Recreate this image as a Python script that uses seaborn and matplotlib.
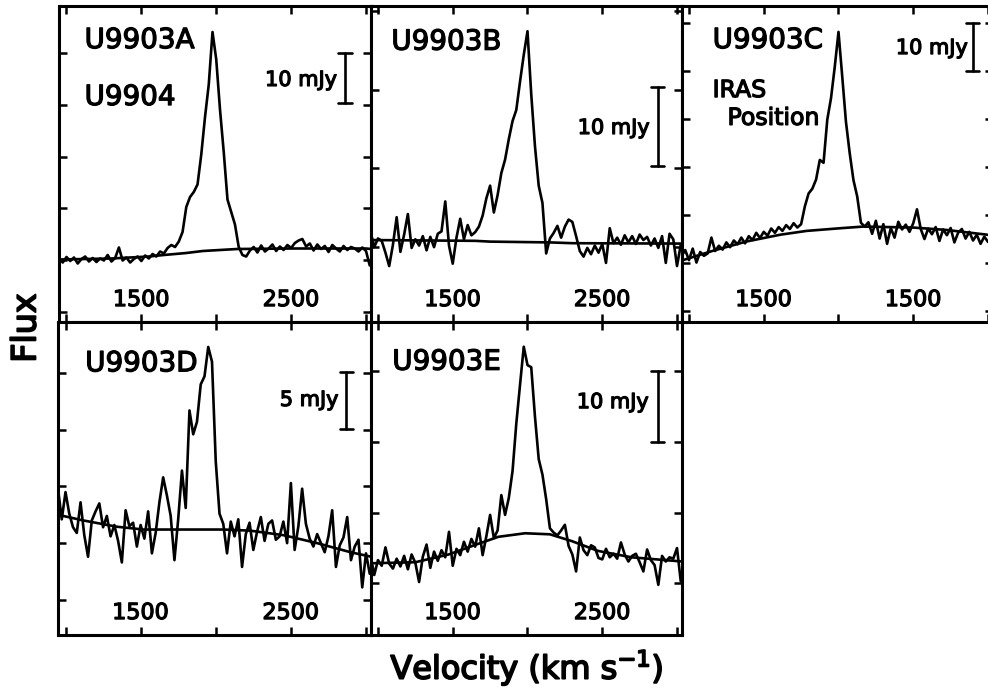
import numpy as np
import pandas as pd
import matplotlib
matplotlib.use("Agg")
import matplotlib.pyplot as plt
import matplotlib.transforms as mtransforms
import matplotlib.patheffects as pe
import seaborn as sns

# ---------------- data ----------------
velocity = [950, 975, 1000, 1025, 1050, 1075, 1100, 1125, 1150, 1175,
            1200, 1225, 1250, 1275, 1300, 1325, 1350, 1375, 1400, 1425,
            1450, 1475, 1500, 1525, 1550, 1575, 1600, 1625, 1650, 1675,
            1700, 1725, 1750, 1775, 1800, 1825, 1850, 1875, 1900, 1925,
            1950, 1975, 2000, 2025, 2050, 2075, 2100, 2125, 2150, 2175,
            2200, 2225, 2250, 2275, 2300, 2325, 2350, 2375, 2400, 2425,
            2450, 2475, 2500, 2525, 2550, 2575, 2600, 2625, 2650, 2675,
            2700, 2725, 2750, 2775, 2800, 2825, 2850, 2875, 2900, 2925,
            2950, 2975, 3000, 3025]

flux_a = [0.2, -0.6, 0.5, -0.3, 0.4, -0.8, 0.1, 0.6, -0.4, 0.3,
          -0.5, 0.2, -0.2, 0.9, -0.4, 0.3, 2.4, -0.2, 0.4, -0.6,
          0.1, 0.6, -0.3, 0.8, 0.2, 1.1, 0.6, 1.6, 1.2, 2.3,
          2.9, 2.5, 3.6, 5.5, 10.5, 12.5, 13.5, 15.0, 21.0, 28.5,
          35.0, 45.5, 40.0, 30.0, 21.5, 12.0, 9.5, 7.0, 2.5, 0.9,
          0.6, 1.8, 2.5, 1.4, 2.8, 1.6, 2.2, 3.0, 1.7, 2.6,
          1.9, 2.9, 2.3, 3.3, 3.8, 4.1, 2.6, 3.2, 1.8, 3.0,
          2.1, 2.7, 1.5, 2.9, 2.2, 1.6, 2.7, 1.9, 2.5, 2.2,
          1.6, 2.4, 1.7, -1.2]
cont_a_v = [950, 1300, 1550, 1650, 1800, 1910, 2140, 2500, 3000, 3035]
cont_a = [0.0, 0.2, 0.6, 0.9, 1.3, 1.7, 2.1, 2.2, 2.2, 2.1]

flux_b = [1.2, -0.8, 0.3, 0.0, -1.5, -3.2, -0.5, 3.0, -1.4, 0.8,
          3.4, -0.9, 0.2, -0.6, 0.6, -1.2, 0.5, -0.8, 0.9, 1.2,
          5.0, -0.6, -2.9, 0.4, 2.8, 0.2, 2.0, 0.7, 1.1, 1.8,
          3.2, 5.4, 7.0, 3.6, 5.8, 8.6, 10.3, 12.9, 15.2, 16.6,
          20.2, 23.6, 26.6, 18.6, 12.0, 7.0, 4.8, -1.6, 0.3, 1.0,
          1.9, 0.4, 1.8, 2.7, 2.4, 0.6, -1.3, -2.0, -0.9, -1.7,
          -0.6, -1.5, -0.4, -2.8, 1.6, -0.3, 0.4, -0.5, 0.7, -0.2,
          0.6, -0.4, 0.8, 0.1, 0.5, -0.6, 0.3, -0.9, 0.6, -2.8,
          0.9, 0.2, -3.2, -0.5]
cont_b_v = [950, 1650, 1750, 2150, 2300, 3035]
cont_b = [0.1, 0.0, -0.1, -0.2, -0.3, -0.35]

flux_c = [-5.5, -4.2, -6.3, -3.9, -6.8, -4.6, -5.4, -4.9, -1.6, -4.4,
          -3.3, -4.1, -2.6, -3.6, -2.2, -3.0, -1.6, -2.8, -1.3, -2.1,
          -0.6, -1.7, -0.4, -1.2, 0.3, -0.6, 0.6, -0.2, 1.0, 0.2,
          1.4, 0.5, 1.2, 4.9, 7.6, 8.6, 10.5, 14.6, 14.0, 23.0,
          27.5, 34.0, 41.3, 32.0, 22.5, 16.0, 10.4, 7.0, 1.5, 0.7,
          1.6, -0.8, 1.9, -1.8, 1.2, -2.9, 0.4, -1.6, 1.7, 0.1,
          1.1, -0.4, 1.4, 4.3, 0.2, -1.9, 0.3, -0.9, 0.6, -2.3,
          0.1, -1.1, 0.4, -2.6, -0.6, 0.2, -1.8, -0.4, -2.2, -1.0,
          -2.9, -1.4, -2.5, -1.8]
cont_c_v = [950, 965, 1165, 1387, 1610, 1787, 2010, 2165, 2498, 2721, 2996, 3035]
cont_c = [-6.4, -6.25, -4.3, -2.4, -1.0, -0.2, 0.35, 0.7, 0.5, 0.0, -1.0, -1.3]

flux_d = [3.6, 0.9, 3.3, 1.4, 0.2, -0.3, 2.4, -0.5, -2.4, 0.8,
          1.6, 2.3, 0.2, 1.2, -0.6, 0.4, -1.0, -2.9, 1.7, 0.3,
          0.6, -1.5, 0.4, -0.8, 1.6, -2.1, -0.3, 2.4, 4.6, 3.0,
          1.2, -2.7, 0.9, 5.2, 1.9, 10.5, 8.4, 9.5, 12.8, 13.5,
          16.1, 14.8, 6.0, 1.4, 0.5, -2.1, 0.7, -0.6, 0.9, -3.3,
          -0.4, 0.6, -1.8, -0.2, 1.1, -1.0, 0.5, 0.8, -0.9, -0.6,
          0.7, -1.2, 4.1, -1.8, 0.3, 3.6, 0.5, -0.8, -1.5, -0.4,
          -1.2, -2.0, -0.6, 1.7, -3.3, -1.4, -0.7, 1.1, -2.7, -1.5,
          -0.9, -5.1, -2.1, -3.9]
cont_d_v = [950, 1119, 1341, 1519, 2052, 2230, 2452, 2675, 2897, 3035]
cont_d = [1.3, 0.8, 0.25, 0.0, 0.0, -0.1, -0.5, -1.2, -2.0, -2.4]

flux_e = [-3.1, -5.9, -3.8, -4.6, -2.0, -4.3, -5.0, -3.6, -4.7, -3.2,
          -5.1, -3.0, -4.2, -6.9, -3.3, -1.6, -4.9, -2.6, -3.9, -2.4,
          -3.4, 0.2, -4.6, -2.2, -3.1, -1.2, -2.6, -0.8, -1.9, 0.7,
          -3.1, -0.4, 2.6, -0.7, 0.4, 5.4, 2.6, 5.0, 8.8, 15.5,
          21.0, 26.4, 23.8, 23.5, 16.5, 10.5, 8.3, 4.8, 0.7, 0.1,
          -0.3, 0.4, 1.2, -1.8, -3.0, -5.4, -0.6, -2.4, -3.1, -1.7,
          -2.0, -3.5, -3.7, -2.2, -3.4, -2.9, -3.6, -1.3, -3.0, -4.0,
          -3.2, -2.9, -4.1, -5.4, -2.3, -3.8, -4.5, -7.3, -3.2, -4.0,
          -3.4, -3.6, -2.1, -6.8]
cont_e_v = [950, 1250, 1473, 1650, 1806, 1984, 2150, 2295, 2472, 2695, 3035]
cont_e = [-4.25, -4.1, -3.0, -1.65, -0.5, 0.0, -0.15, -1.1, -2.5, -3.4, -4.0]

panel_names = ["U9903A", "U9903B", "U9903C", "U9903D", "U9903E"]
extra_labels = [["U9904"], [], ["IRAS", "Position"], [], []]
scale_labels = ["10 mJy", "10 mJy", "10 mJy", "5 mJy", "10 mJy"]
scale_sizes = [10, 10, 10, 5, 10]
tick_values = [1000, 1500, 2000, 2500, 3000]
tick_labels_std = ["", "1500", "", "2500", ""]
tick_labels_c = ["", "1500", "", "1500", ""]

# ---------------- layout ----------------
W, H = 988, 694
fig = plt.figure(figsize=(W / 100, H / 100), dpi=100)
sns.set_theme(style="white")
plt.rcParams['font.family'] = ['DejaVu Sans']
THICK = [pe.withStroke(linewidth=0.9, foreground="black")]
THICK_BIG = [pe.withStroke(linewidth=1.3, foreground="black")]

def ax_rect(x0, y0, w, h):
    return [x0 / W, 1 - (y0 + h) / H, w / W, h / H]

layout = [
    dict(rect=ax_rect(59, 6, 311.5, 316), ylim=(-12.5, 50.7), t0=41.3, ts=10.35,
         bar_top=41.3, bar_x=0.918, lab_x=0.892, lab_y=0.766,
         name_xy=(0.082, 0.892), extra_xy=[(0.082, 0.712)], extra_fs=20),
    dict(rect=ax_rect(370.5, 6, 311, 316), ylim=(-10.3, 29.8), t0=19.2, ts=10,
         bar_top=19.5, bar_x=0.923, lab_x=0.897, lab_y=0.614,
         name_xy=(0.067, 0.887), extra_xy=[], extra_fs=20),
    dict(rect=ax_rect(681.5, 6, 311, 316), ylim=(-19.2, 46.7), t0=43.1, ts=10,
         bar_top=43.2, bar_x=0.936, lab_x=0.92, lab_y=0.867,
         name_xy=(0.10, 0.892), extra_xy=[(0.10, 0.734), (0.148, 0.646)], extra_fs=17),
    dict(rect=ax_rect(58, 322, 312.5, 313), ylim=(-9.3, 18.3), t0=13.8, ts=5,
         bar_top=13.9, bar_x=0.923, lab_x=0.897, lab_y=0.751,
         name_xy=(0.087, 0.868), extra_xy=[], extra_fs=20),
    dict(rect=ax_rect(370.5, 322, 311, 313), ylim=(-14.4, 29.9), t0=22.9, ts=10,
         bar_top=22.9, bar_x=0.923, lab_x=0.894, lab_y=0.744,
         name_xy=(0.07, 0.873), extra_xy=[], extra_fs=20),
]

fluxes = [flux_a, flux_b, flux_c, flux_d, flux_e]
conts = [(cont_a_v, cont_a), (cont_b_v, cont_b), (cont_c_v, cont_c),
         (cont_d_v, cont_d), (cont_e_v, cont_e)]

LW = 1.9
for i, cfg in enumerate(layout):
    ax = fig.add_axes(cfg["rect"])
    df = pd.DataFrame({"v": velocity, "f": fluxes[i]})
    sns.lineplot(data=df, x="v", y="f", ax=ax, color="black", lw=LW,
                 estimator=None, sort=False)
    cdf = pd.DataFrame({"v": conts[i][0], "f": conts[i][1]})
    sns.lineplot(data=cdf, x="v", y="f", ax=ax, color="black", lw=LW,
                 estimator=None, sort=False)
    ax.set_xlim(950, 3030)
    ax.set_ylim(*cfg["ylim"])
    ax.set_xlabel("")
    ax.set_ylabel("")
    lo, hi = cfg["ylim"]
    yt = np.arange(cfg["t0"], lo, -cfg["ts"])
    yt = np.concatenate([np.arange(cfg["t0"] + cfg["ts"], hi, cfg["ts"]), yt])
    ax.set_yticks(yt)
    ax.set_yticklabels([])
    ax.set_xticks(tick_values)
    ax.set_xticklabels(tick_labels_c if i == 2 else tick_labels_std)
    ax.tick_params(axis="both", direction="in", length=6, width=1.8,
                   top=True, right=True, bottom=True, left=True, color="black")
    ax.tick_params(axis="x", pad=-23, labelsize=16, labelcolor="black")
    for lbl in ax.get_xticklabels():
        lbl.set_path_effects(THICK)
    for s in ax.spines.values():
        s.set_visible(True)
        s.set_linewidth(2.2)
        s.set_color("black")
    # scale bar
    tr = mtransforms.blended_transform_factory(ax.transAxes, ax.transData)
    bt = cfg["bar_top"]
    bb = bt - scale_sizes[i]
    bx = cfg["bar_x"]
    ax.plot([bx, bx], [bt, bb], transform=tr, color="black", lw=LW)
    ax.plot([bx - 0.022, bx + 0.022], [bt, bt], transform=tr, color="black", lw=LW)
    ax.plot([bx - 0.022, bx + 0.022], [bb, bb], transform=tr, color="black", lw=LW)
    ax.text(cfg["lab_x"], cfg["lab_y"], scale_labels[i], transform=ax.transAxes,
            ha="right", va="center", fontsize=15, color="black", path_effects=THICK)
    nx, ny = cfg["name_xy"]
    ax.text(nx, ny, panel_names[i], transform=ax.transAxes, ha="left",
            va="center", fontsize=20, color="black", path_effects=THICK)
    for txt, (ex, ey) in zip(extra_labels[i], cfg["extra_xy"]):
        ax.text(ex, ey, txt, transform=ax.transAxes, ha="left", va="center",
                fontsize=cfg["extra_fs"], color="black", path_effects=THICK)

fig.text(26 / W, 1 - 328 / H, "Flux", rotation=90, ha="center", va="center",
         fontsize=24, color="black", path_effects=THICK_BIG)
fig.text(527 / W, 1 - 668 / H, "Velocity (km s$^{-1}$)", ha="center",
         va="center", fontsize=23, color="black", path_effects=THICK_BIG)

fig.savefig("out.png", dpi=100, facecolor="white")
